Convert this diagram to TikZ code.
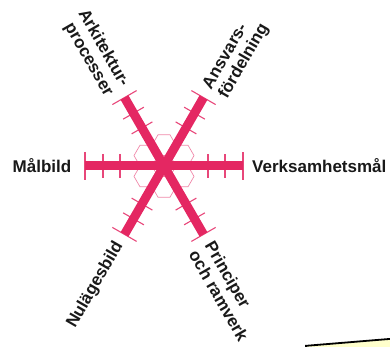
\documentclass[tikz,border=0pt]{standalone}
\usepackage{fontspec}
\setmainfont{Liberation Sans}
\usetikzlibrary{calc}
\definecolor{spokepink}{HTML}{E42762}
\definecolor{noteyellow}{HTML}{FFFFCC}
\tikzset{
  bar/.style={draw=spokepink, line width=9pt, line cap=butt},
  tick/.style={draw=spokepink!85, line width=1.1pt},
  hexline/.style={draw=spokepink!55, line width=0.7pt},
  lbl/.style={font=\bfseries\fontsize{17}{18.5}\selectfont, inner sep=0pt, text=black!90},
  note/.style={draw=black, line width=1.8pt, fill=noteyellow, minimum width=140pt, minimum height=60pt}
}

\begin{document}
\begin{tikzpicture}[x=1pt, y=1pt]
  \useasboundingbox (0,0) rectangle (390,347);
  \clip (0,0) rectangle (390,347);
  \coordinate (C) at (164,181);

  % honeycomb ring round the centre
  \foreach \a in {30,90,...,330}
    \draw[hexline] ($(C)+(\a:20.8)$) +(0:12) -- +(60:12) -- +(120:12) -- +(180:12) -- +(240:12) -- +(300:12) -- cycle;

  % scale marks on the six arms
  \foreach \a in {0,60,...,300} {
    \begin{scope}[shift={(C)}, rotate=\a]
      \foreach \d in {44,61}
        \draw[tick] (\d,-12) -- (\d,12);
      \draw[tick] (79,-14) -- (79,14);
    \end{scope}
  }

  % the three bars
  \foreach \a in {0,60,120}
    \draw[bar] ($(C)+(\a:79)$) -- ($(C)+(\a+180:79)$);

  % labels
  \node[lbl, anchor=east] (malbild) at ($(C)+(180:92.5)$) {Målbild};
  \node[lbl, anchor=west] (verksamhet) at ($(C)+(0:88)$) {Verksamhetsmål};
  \node[lbl, anchor=east, rotate=-60, align=right] (arkitektur) at ($(C)+(120:89)+(-150:3)$) {Arkitektur-\\processer};
  \node[lbl, anchor=west, rotate=60, align=left] (ansvar) at ($(C)+(60:89)+(-30:8)$) {Ansvars-\\fördelning};
  \node[lbl, anchor=east, rotate=60] (nulage) at ($(C)+(240:89)$) {Nulägesbild};
  \node[lbl, anchor=west, rotate=-60, align=left] (principer) at ($(C)+(300:89)+(-150:8)$) {Principer\\och ramverk};

  % corner of a note, cut off by the frame
  \node[note, rotate=4.7, anchor=north west] (hint) at (305,2) {};
\end{tikzpicture}
\end{document}
